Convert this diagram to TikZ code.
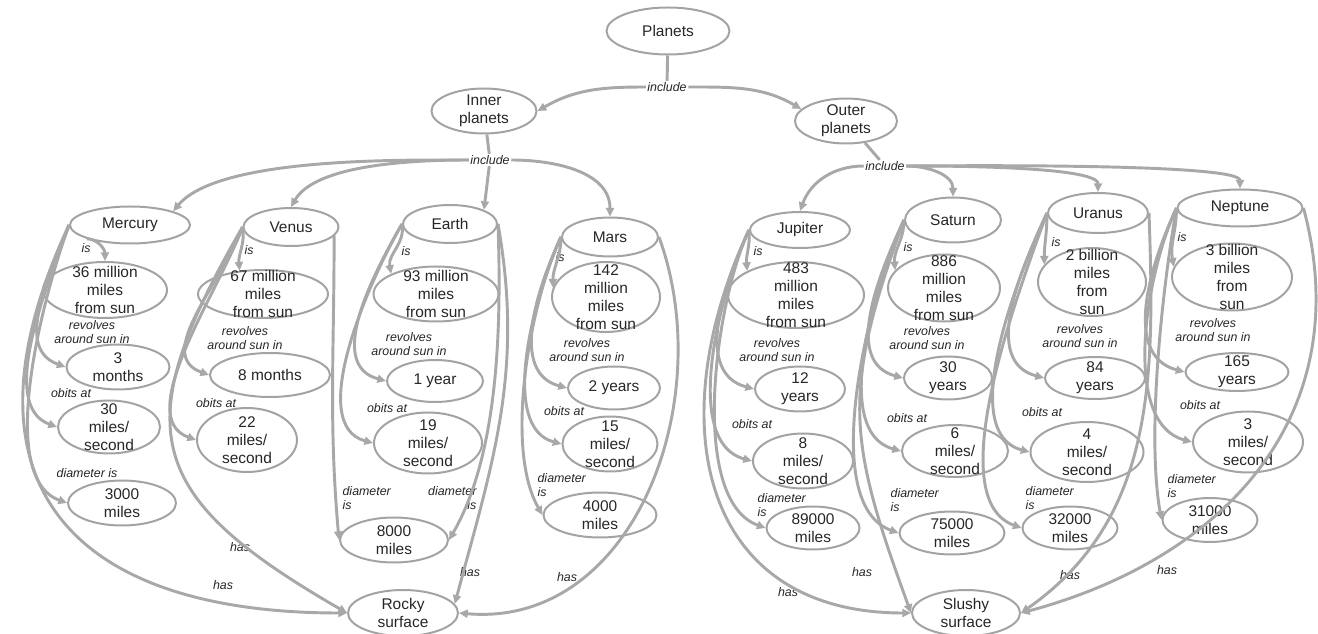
\documentclass[tikz,border=0pt]{standalone}
\usepackage{fontspec}
\setmainfont{Liberation Sans}
\usepackage{xcolor}
\usepackage{tikz}
\usetikzlibrary{shapes.geometric,arrows.meta}

\definecolor{linkgray}{HTML}{A8A8A8}
\definecolor{ovalgray}{HTML}{A3A3A3}
\definecolor{inkgray}{HTML}{262626}
\newcommand{\ideafont}{\fontsize{11.6}{13.5}\selectfont}
\newcommand{\phrasefont}{\itshape\fontsize{9.3}{10.5}\selectfont}

\begin{document}
\begin{tikzpicture}
    [x=0.75pt, y=0.75pt,
    idea/.style 2 args = {ellipse, draw=ovalgray, line width=1.5pt,
                inner sep=-40pt, minimum width={#1*0.75pt},
                minimum height={#2*0.75pt}, align=center,
                text=inkgray, font=\ideafont},
    phrase/.style = {inner sep=1pt, align=center, text=inkgray, font=\phrasefont},
    rel/.style = {draw=linkgray, line width=2.2pt,
                -{Triangle[length=6.5pt,width=6pt]}},
    stem/.style = {draw=linkgray, line width=2.2pt}]
    \useasboundingbox (0,0) rectangle (1318,-634);
    % Top of the map
    \node[idea={123}{47}] (planets) at (668,-31) {Planets};
    \node[phrase] (incTop) at (667,-87) {include};
    \node[idea={105}{45}] (inner) at (484,-111) {Inner\\planets};
    \node[idea={102}{45}] (outer) at (846,-121) {Outer\\planets};
    \node[phrase] (incInner) at (490,-160) {include};
    \node[phrase] (incOuter) at (885,-166) {include};
    % Planets
    \node[idea={120}{37}] (mercury) at (130,-225) {Mercury};
    \node[idea={95}{38}] (venus) at (291,-227) {Venus};
    \node[idea={94}{38}] (earth) at (450,-224) {Earth};
    \node[idea={96}{39}] (mars) at (610,-237) {Mars};
    \node[idea={100}{36}] (jupiter) at (800,-230) {Jupiter};
    \node[idea={96}{45}] (saturn) at (953,-220) {Saturn};
    \node[idea={100}{40}] (uranus) at (1098,-213) {Uranus};
    \node[idea={125}{37}] (neptune) at (1240,-208) {Neptune};
    % Surfaces
    \node[idea={110}{46}] (rocky) at (403,-613) {Rocky\\surface};
    \node[idea={108}{46}] (slushy) at (966,-613) {Slushy\\surface};
    % Mercury
    \node[idea={124}{56}] (merDist) at (105,-290) {36 million\\miles\\from sun};
    \node[idea={103}{45}] (merRev) at (118,-367) {3\\months};
    \node[idea={102}{53}] (merOrb) at (109,-427) {30\\miles/\\second};
    \node[idea={108}{45}] (merDia) at (122,-503) {3000\\miles};
    % Venus
    \node[idea={130}{48}] (venDist) at (263,-294) {67 million\\miles\\from sun};
    \node[idea={120}{44}] (venRev) at (270,-375) {8 months};
    \node[idea={100}{64}] (venOrb) at (247,-440) {22\\miles/\\second};
    % Earth
    \node[idea={125}{55}] (earDist) at (436,-294) {93 million\\miles\\from sun};
    \node[idea={96}{42}] (earRev) at (435,-381) {1 year};
    \node[idea={108}{61}] (earOrb) at (428,-443) {19\\miles/\\second};
    \node[idea={108}{45}] (earDia) at (394,-540) {8000\\miles};
    % Mars
    \node[idea={108}{70}] (marDist) at (606,-297) {142\\million\\miles\\from sun};
    \node[idea={92}{43}] (marRev) at (614,-388) {2 years};
    \node[idea={95}{55}] (marOrb) at (610,-444) {15\\miles/\\second};
    \node[idea={113}{45}] (marDia) at (600,-515) {4000\\miles};
    % Jupiter
    \node[idea={136}{66}] (jupDist) at (796,-295) {483\\million\\miles\\from sun};
    \node[idea={90}{45}] (jupRev) at (800,-389) {12\\years};
    \node[idea={100}{55}] (jupOrb) at (803,-461) {8\\miles/\\second};
    \node[idea={93}{43}] (jupDia) at (813,-528) {89000\\miles};
    % Saturn
    \node[idea={112}{67}] (satDist) at (944,-288) {886\\million\\miles\\from sun};
    \node[idea={88}{43}] (satRev) at (948,-378) {30\\years};
    \node[idea={106}{52}] (satOrb) at (955,-451) {6\\miles/\\second};
    \node[idea={105}{43}] (satDia) at (952,-533) {75000\\miles};
    % Uranus
    \node[idea={108}{68}] (uraDist) at (1092,-282) {2 billion\\miles\\from\\sun};
    \node[idea={100}{42}] (uraRev) at (1095,-378) {84\\years};
    \node[idea={113}{60}] (uraOrb) at (1087,-452) {4\\miles/\\second};
    \node[idea={95}{43}] (uraDia) at (1070,-528) {32000\\miles};
    % Neptune
    \node[idea={120}{67}] (nepDist) at (1232,-277) {3 billion\\miles\\from\\sun};
    \node[idea={103}{38}] (nepRev) at (1237,-372) {165\\years};
    \node[idea={110}{61}] (nepOrb) at (1248,-442) {3\\miles/\\second};
    \node[idea={95}{44}] (nepDia) at (1210,-520) {31000\\miles};
    % Linking phrases
    \node[phrase] (merIs) at (86,-248) {is};
    \node[phrase] (merRevL) at (92,-332) {revolves\\around sun in};
    \node[phrase] (merOrbL) at (71,-393) {obits at};
    \node[phrase] (merDiaL) at (87,-473) {diameter is};
    \node[phrase] (merHas) at (223,-585) {has};
    \node[phrase] (venIs) at (249,-250) {is};
    \node[phrase] (venRevL) at (245,-338) {revolves\\around sun in};
    \node[phrase] (venOrbL) at (216,-403) {obits at};
    \node[phrase, anchor=west, align=left] (venDiaL) at (341,-498) {diameter\\is};
    \node[phrase] (venHas) at (240,-547) {has};
    \node[phrase] (earIs) at (406,-251) {is};
    \node[phrase] (earRevL) at (409,-344) {revolves\\around sun in};
    \node[phrase] (earOrbL) at (387,-408) {obits at};
    \node[phrase, anchor=east, align=right] (earDiaL) at (478,-498) {diameter\\is};
    \node[phrase] (earHas) at (470,-572) {has};
    \node[phrase] (marIs) at (560,-257) {is};
    \node[phrase] (marRevL) at (587,-350) {revolves\\around sun in};
    \node[phrase] (marOrbL) at (564,-411) {obits at};
    \node[phrase, anchor=west, align=left] (marDiaL) at (536,-485) {diameter\\is};
    \node[phrase] (marHas) at (567,-577) {has};
    \node[phrase] (jupIs) at (758,-251) {is};
    \node[phrase] (jupRevL) at (777,-350) {revolves\\around sun in};
    \node[phrase] (jupOrbL) at (752,-424) {obits at};
    \node[phrase, anchor=west, align=left] (jupDiaL) at (756,-505) {diameter\\is};
    \node[phrase] (jupHas) at (788,-592) {has};
    \node[phrase] (satIs) at (908,-247) {is};
    \node[phrase] (satRevL) at (927,-338) {revolves\\around sun in};
    \node[phrase] (satOrbL) at (907,-418) {obits at};
    \node[phrase, anchor=west, align=left] (satDiaL) at (889,-500) {diameter\\is};
    \node[phrase] (satHas) at (862,-572) {has};
    \node[phrase] (uraIs) at (1056,-242) {is};
    \node[phrase] (uraRevL) at (1080,-336) {revolves\\around sun in};
    \node[phrase] (uraOrbL) at (1042,-412) {obits at};
    \node[phrase, anchor=west, align=left] (uraDiaL) at (1024,-498) {diameter\\is};
    \node[phrase] (uraHas) at (1070,-575) {has};
    \node[phrase] (nepIs) at (1182,-237) {is};
    \node[phrase] (nepRevL) at (1213,-330) {revolves\\around sun in};
    \node[phrase] (nepOrbL) at (1200,-405) {obits at};
    \node[phrase, anchor=west, align=left] (nepDiaL) at (1166,-486) {diameter\\is};
    \node[phrase] (nepHas) at (1167,-570) {has};
    % Upper links
    \draw[stem] (planets) -- (incTop);
    \draw[rel] (incTop.west) to[out=180,in=30] (inner.east);
    \draw[rel] (incTop.east) to[out=0,in=150] (outer.165);
    \draw[stem] (inner) -- (incInner);
    \draw[rel] (incInner.west) to[out=180,in=50,looseness=0.6] (mercury.north east);
    \draw[rel] (incInner.west) to[out=180,in=60,looseness=0.7] (venus.north);
    \draw[rel] (incInner) -- (earth.north east);
    \draw[rel] (incInner.east) to[out=0,in=90] (mars.north);
    \draw[stem] (outer) -- (incOuter);
    \draw[rel] (incOuter.west) to[out=180,in=70] (jupiter.north);
    \draw[rel] (incOuter.east) to[out=0,in=90] (saturn.north);
    \draw[rel] (incOuter.east) to[out=0,in=90,looseness=0.35] (uranus.north);
    \draw[rel] (incOuter.east) to[out=0,in=90,looseness=0.2] (neptune.north);
    % Mercury links
    \draw[rel] (mercury.south west) to[out=0,in=90] (merDist.north);
    \draw[rel] (mercury.west) to[out=250,in=160] (merRev.west);
    \draw[rel] (mercury.west) to[out=250,in=160,looseness=0.8] (merOrb.west);
    \draw[rel] (mercury.west) to[out=250,in=160,looseness=0.7] (merDia.west);
    \draw[rel] (mercury.west) to[out=245,in=180,looseness=1.5] (rocky.west);
    % Venus links
    \draw[rel] (venus.west) to[out=-80,in=95] (venDist.135);
    \draw[rel] (venus.west) to[out=250,in=160] (venRev.west);
    \draw[rel] (venus.west) to[out=250,in=160,looseness=0.8] (venOrb.west);
    \draw[rel] (venus.west) to[out=240,in=150,looseness=1.5] (rocky.west);
    \draw[rel] (venus.-12) to[out=-90,in=95] (earDia.west);
    % Earth links
    \draw[rel] (earth.west) to[out=-80,in=100] (earDist.north west);
    \draw[rel] (earth.west) to[out=240,in=165] (earRev.west);
    \draw[rel] (earth.west) to[out=240,in=165,looseness=0.8] (earOrb.west);
    \draw[rel] (earth.east) to[out=-88,in=60,looseness=0.8] (earDia.east);
    \draw[rel] (earth.east) to[out=-80,in=75] (rocky.10);
    % Mars links
    \draw[rel] (mars.west) to[out=-90,in=90] (marDist.170);
    \draw[rel] (mars.west) to[out=245,in=165] (marRev.west);
    \draw[rel] (mars.west) to[out=245,in=165,looseness=0.8] (marOrb.west);
    \draw[rel] (mars.west) to[out=245,in=120,looseness=0.7] (marDia.west);
    \draw[rel] (mars.east) to[out=-70,in=-5,looseness=1.05] (rocky.east);
    % Jupiter links
    \draw[rel] (jupiter.west) to[out=-85,in=95] (jupDist.north west);
    \draw[rel] (jupiter.west) to[out=245,in=165] (jupRev.west);
    \draw[rel] (jupiter.west) to[out=245,in=165,looseness=0.8] (jupOrb.west);
    \draw[rel] (jupiter.west) to[out=245,in=160,looseness=0.7] (jupDia.west);
    \draw[rel] (jupiter.west) to[out=245,in=180,looseness=1.3] (slushy.west);
    % Saturn links
    \draw[rel] (saturn.west) to[out=-90,in=95] (satDist.160);
    \draw[rel] (saturn.west) to[out=245,in=165] (satRev.west);
    \draw[rel] (saturn.west) to[out=245,in=165,looseness=0.8] (satOrb.west);
    \draw[rel] (saturn.west) to[out=245,in=160,looseness=0.7] (satDia.west);
    \draw[rel] (saturn.west) to[out=250,in=110,looseness=1.2] (slushy.west);
    % Uranus links
    \draw[rel] (uranus.west) to[out=-90,in=90] (uraDist.160);
    \draw[rel] (uranus.west) to[out=245,in=165] (uraRev.west);
    \draw[rel] (uranus.west) to[out=245,in=165,looseness=0.8] (uraOrb.west);
    \draw[rel] (uranus.west) to[out=250,in=160,looseness=0.7] (uraDia.west);
    \draw[rel] (uranus.east) to[out=-88,in=35] (slushy.east);
    % Neptune links
    \draw[rel] (neptune.west) to[out=-90,in=100] (nepDist.170);
    \draw[rel] (neptune.west) to[out=245,in=165] (nepRev.west);
    \draw[rel] (neptune.west) to[out=245,in=165,looseness=0.8] (nepOrb.west);
    \draw[rel] (neptune.west) to[out=260,in=100,looseness=0.7] (nepDia.west);
    \draw[rel] (neptune.east) to[out=-75,in=15,looseness=1.1] (slushy.east);
\end{tikzpicture}
\end{document}
